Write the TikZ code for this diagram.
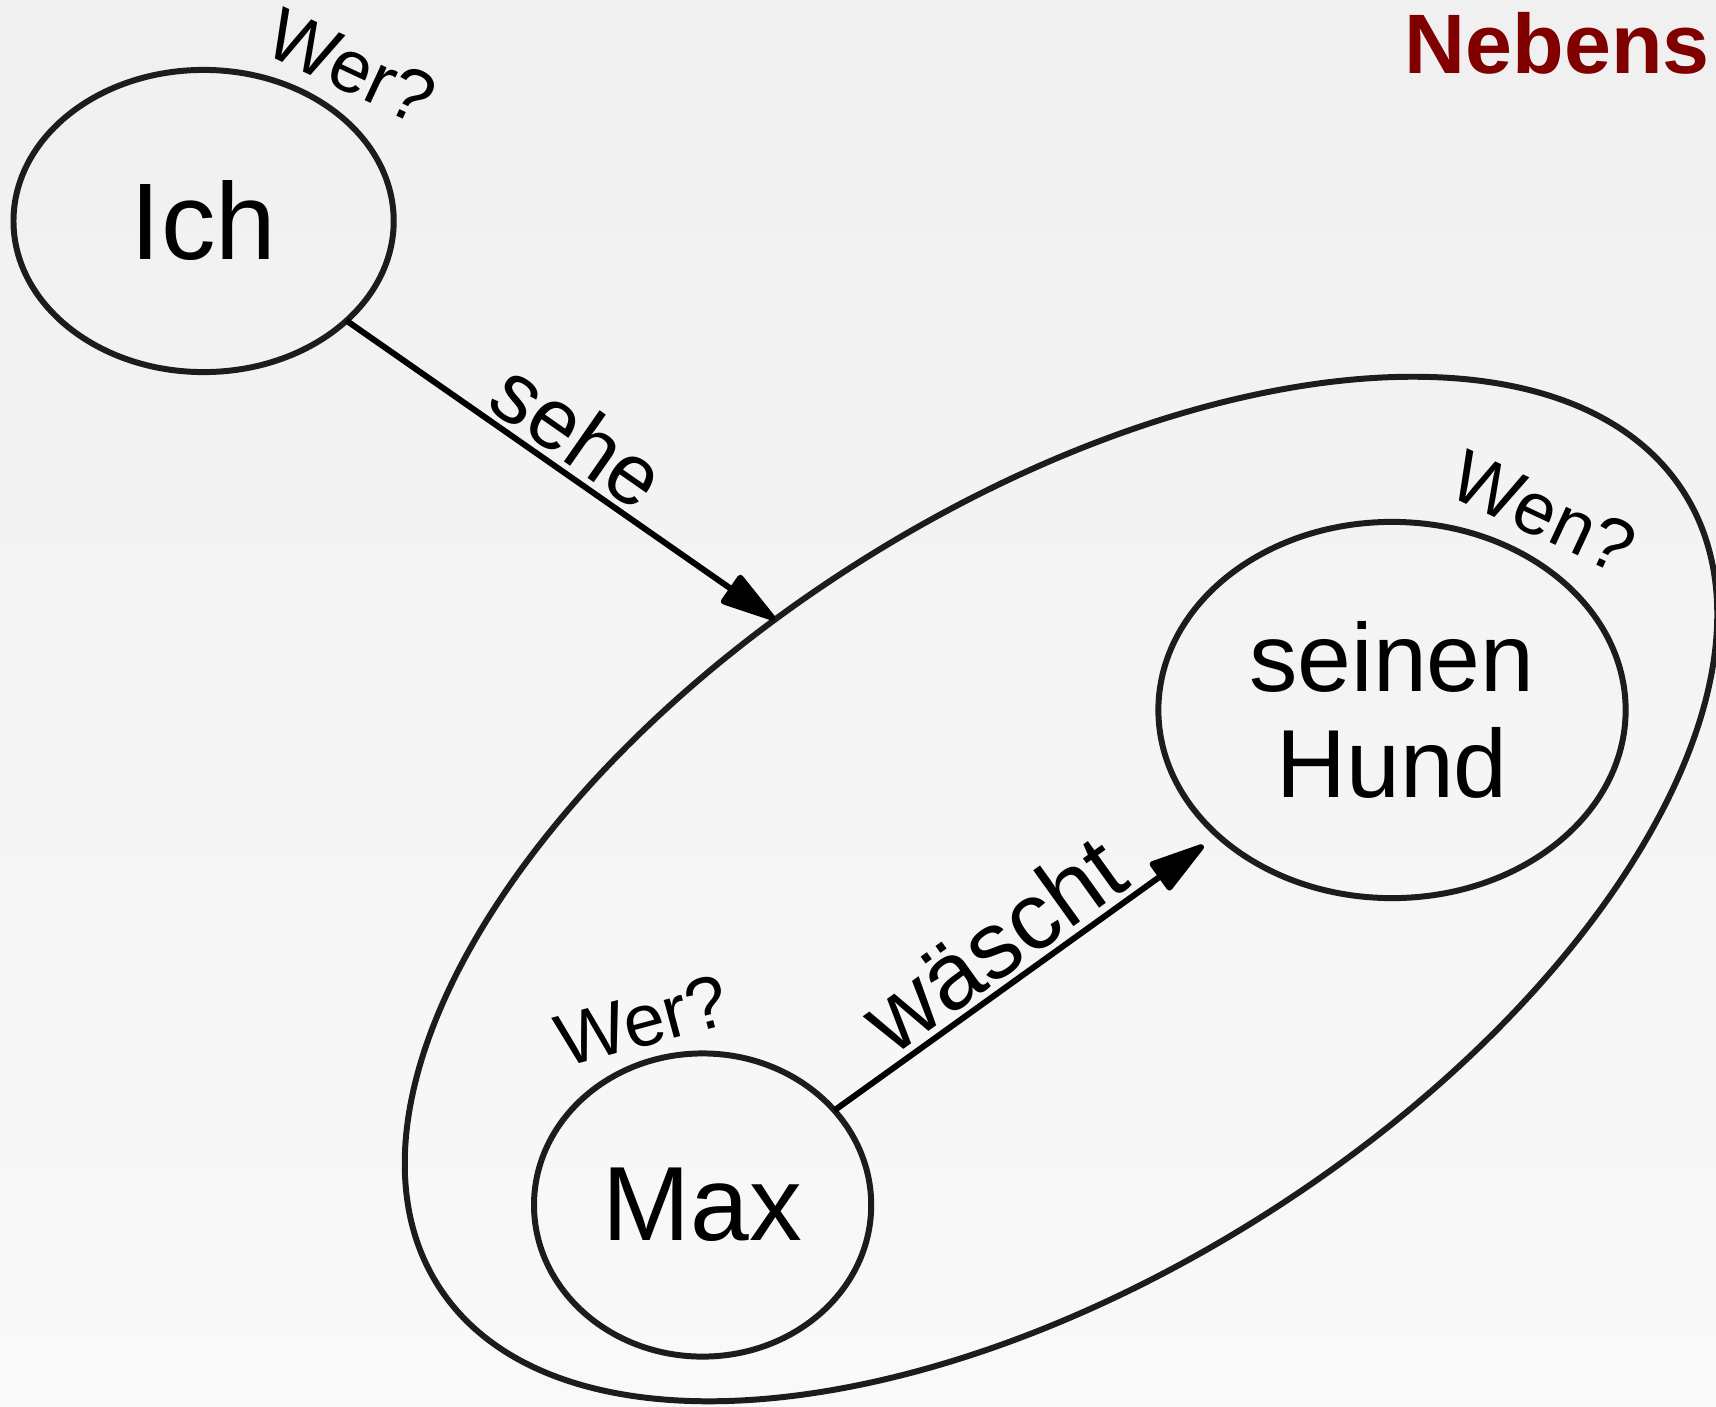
\documentclass[tikz,border=0pt]{standalone}
\usepackage{fontspec}
\setmainfont{Liberation Sans}
\usetikzlibrary{arrows.meta,shapes.geometric}
\definecolor{bgtop}{HTML}{F0F0F0}
\definecolor{bgbot}{HTML}{F9F9F9}
\definecolor{linegray}{HTML}{1C1C1C}
\definecolor{nebred}{HTML}{800000}
\begin{document}
\begin{tikzpicture}[x=0.01cm,y=-0.01cm,
  ell/.style={draw=linegray, line width=1.7pt, ellipse, inner sep=0pt, outer sep=0pt},
  conn/.style={draw=black, line width=1.7pt, -{Triangle[length=18pt,width=10pt,round]}},
  qlabel/.style={font=\fontsize{21pt}{24pt}\selectfont, inner sep=0pt},
  elabel/.style={sloped, anchor=south, inner sep=1.5pt}]
\fill[top color=bgtop, bottom color=bgbot] (0,0) rectangle (1716,1406);
\useasboundingbox (0,0) rectangle (1716,1406);
\node[ell, minimum width=3.80cm, minimum height=3.02cm, font=\fontsize{31pt}{34pt}\selectfont] (ich) at (203.6,221) {Ich};
\node[ell, minimum width=14.76cm, minimum height=7.68cm, rotate=32.5] (ns) at (1061,889) {};
\node[ell, minimum width=4.67cm, minimum height=3.76cm, align=center, font=\fontsize{27.5pt}{30.2pt}\selectfont] (hund) at (1392,710) {seinen\\Hund};
\node[ell, minimum width=3.37cm, minimum height=3.03cm, font=\fontsize{30pt}{33pt}\selectfont] (max) at (702.6,1205) {Max};
\coordinate (t1) at (774.8,619.4);
\draw[conn] (ich) -- (t1) node[elabel, pos=0.49, font=\fontsize{24.5pt}{28pt}\selectfont] (sehe) {sehe};
\draw[conn, shorten >=5pt] (max) -- (hund) node[elabel, pos=0.48, font=\fontsize{27pt}{30pt}\selectfont] (wascht) {wäscht};
\node[qlabel, rotate=-25] (q1) at (351.5,66.5) {Wer?};
\node[qlabel, rotate=-25] (q2) at (1543.5,512) {Wen?};
\node[qlabel, rotate=15] (q3) at (642,1020.5) {Wer?};
\node[anchor=base west, font=\bfseries\fontsize{24pt}{28pt}\selectfont, text=nebred, inner sep=0pt] (title) at (1404,73.3) {Nebens};
\end{tikzpicture}
\end{document}
